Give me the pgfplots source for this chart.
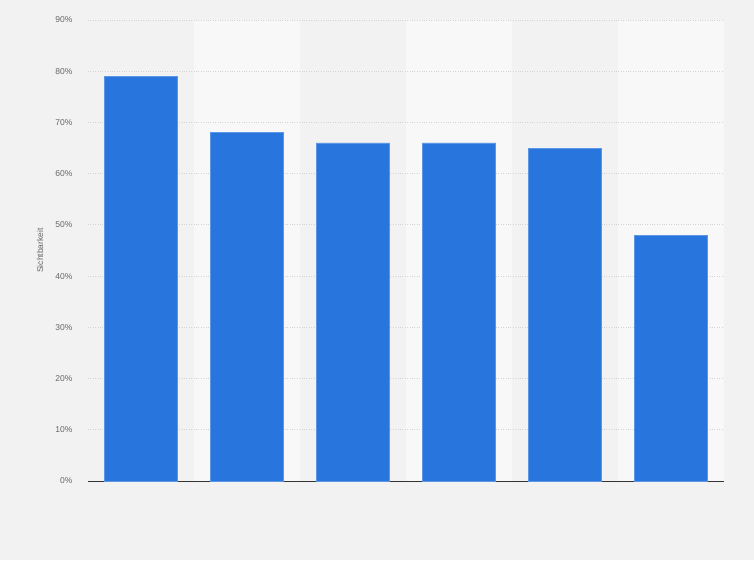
\documentclass[border=0pt]{standalone}
\usepackage{pgfplots}
\pgfplotsset{compat=1.18}
\usepackage{fontspec}
\setmainfont{Liberation Sans}
\definecolor{bgc}{HTML}{F2F2F2}
\definecolor{bandc}{HTML}{F8F8F8}
\definecolor{barc}{HTML}{2876DD}
\definecolor{baredge}{HTML}{5C97E6}
\definecolor{gridc}{HTML}{D4D4D4}
\definecolor{tickc}{HTML}{666666}
\begin{document}
\begin{tikzpicture}
  \begin{axis}[
      set layers,
      at={(88pt,79pt)}, anchor=origin,
      scale only axis, width=636pt, height=461pt,
      xmin=0.5, xmax=6.5, ymin=0, ymax=90,
      xtick=\empty,
      ytick={0,10,...,90},
      yticklabel={\pgfmathprintnumber{\tick}\%},
      /pgf/number format/assume math mode=true,
      yticklabel style={font=\fontsize{8.5}{10}\selectfont, text=tickc, xshift=-12pt},
      major tick length=0pt,
      ymajorgrids, grid style={gridc, dotted, line width=0.8pt},
      axis x line*=bottom, axis y line*=left,
      y axis line style={draw=none},
      x axis line style={-, draw=black!80, line width=0.9pt},
      ylabel={Sichtbarkeit},
      ylabel style={at={(rel axis cs:-0.0755,0.5)}, anchor=center,
                    font=\fontsize{8.5}{10}\selectfont, text=tickc},
      clip=false,
    ]
    \begin{pgfonlayer}{axis background}
      \fill[bgc] (rel axis cs:-0.13836,-0.17137) rectangle (rel axis cs:1.04717,1.04338);
      \fill[bandc] (axis cs:1.5,0) rectangle (axis cs:2.5,90);
      \fill[bandc] (axis cs:3.5,0) rectangle (axis cs:4.5,90);
      \fill[bandc] (axis cs:5.5,0) rectangle (axis cs:6.5,90);
    \end{pgfonlayer}
    \addplot[ybar, bar width=0.69, fill=barc, draw=baredge, line width=0.6pt]
      coordinates {(1,79) (2,68) (3,66) (4,66) (5,65) (6,48)};
  \end{axis}
\end{tikzpicture}
\end{document}
